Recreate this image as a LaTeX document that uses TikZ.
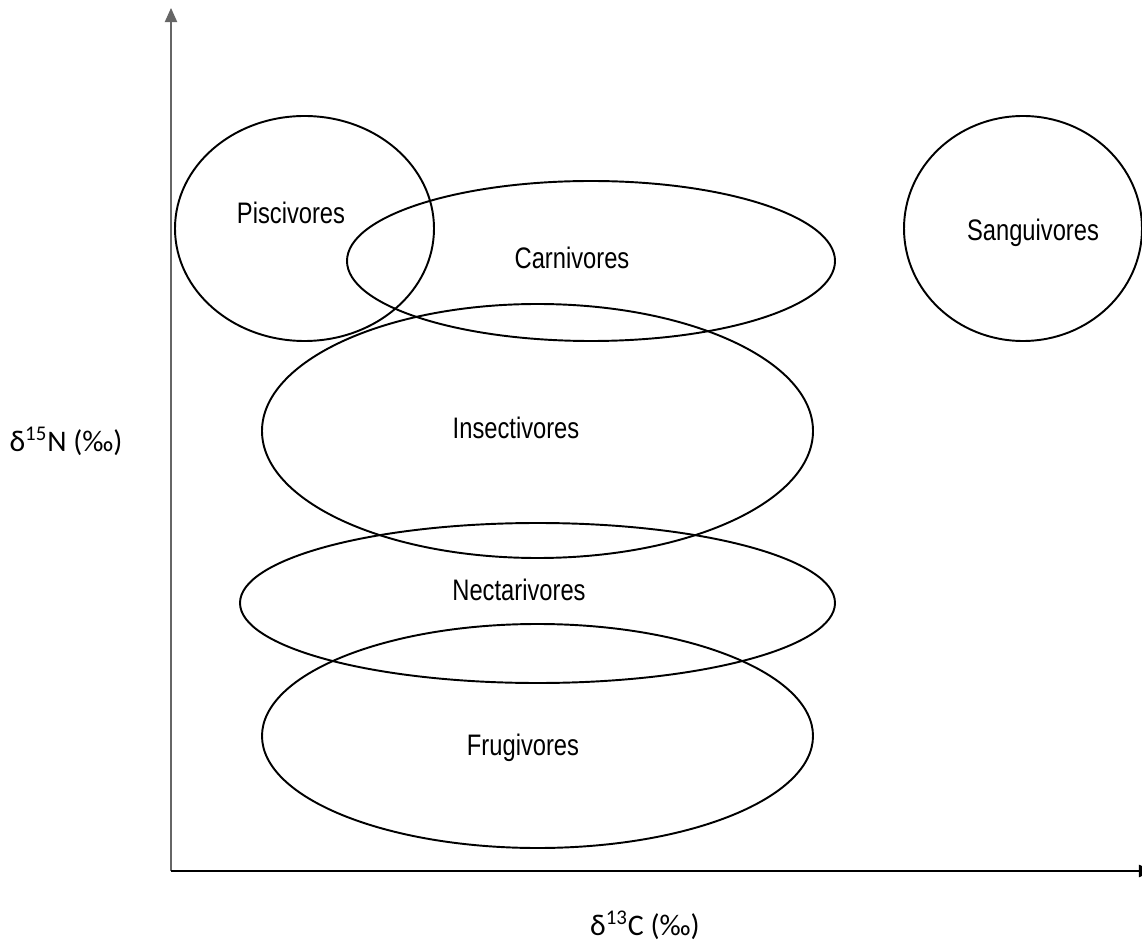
\documentclass[tikz,border=0pt]{standalone}
\usepackage{fontspec}
\setmainfont{Liberation Sans}
\newfontfamily\axisfont{Carlito}
\usetikzlibrary{shapes.geometric,arrows.meta}

\begin{document}
\begin{tikzpicture}[
    zone/.style={draw, ellipse, line width=1.1pt, inner sep=0pt},
    tag/.style={font=\fontsize{13.5}{16}\selectfont, yscale=1.25, transform shape},
    axlabel/.style={font=\axisfont\fontsize{17}{20}\selectfont}]
    
    \useasboundingbox (0,0) rectangle (22.84,18.9);
    
    % axes
    \coordinate (O) at (3.42,1.48);
    \coordinate (Ytop) at (3.42,18.74);
    \coordinate (Xend) at (23.06,1.48);
    \draw[line width=0.6pt, black!60, -{Triangle[width=7pt,length=8pt]}] (O) -- (Ytop);
    \draw[line width=0.8pt, -{Triangle[width=7pt,length=8pt]}] (O) -- (Xend);
    
    % groups
    \node[zone, minimum width=5.18cm, minimum height=4.5cm] (Pisc) at (6.09,14.33) {};
    \node[zone, minimum width=9.76cm, minimum height=3.2cm] (Carn) at (11.82,13.68) {};
    \node[zone, minimum width=4.76cm, minimum height=4.5cm] (Sang) at (20.46,14.33) {};
    \node[zone, minimum width=11.02cm, minimum height=5.08cm] (Inse) at (10.75,10.28) {};
    \node[zone, minimum width=11.9cm, minimum height=3.2cm] (Nect) at (10.75,6.84) {};
    \node[zone, minimum width=11.02cm, minimum height=4.48cm] (Frug) at (10.75,4.18) {};
    
    \node[tag] (PiscL) at (5.82,14.64) {Piscivores};
    \node[tag] (CarnL) at (11.44,13.74) {Carnivores};
    \node[tag] (SangL) at (20.66,14.24) {Sanguivores};
    \node[tag] (InseL) at (10.32,10.34) {Insectivores};
    \node[tag] (NectL) at (10.38,7.1) {Nectarivores};
    \node[tag] (FrugL) at (10.46,3.94) {Frugivores};
    
    \node[axlabel] (Ylab) at (1.32,10.08) {δ\textsuperscript{15}N (‰)};
    \node[axlabel] (Xlab) at (12.9,0.4) {δ\textsuperscript{13}C (‰)};
    
\end{tikzpicture}
\end{document}
